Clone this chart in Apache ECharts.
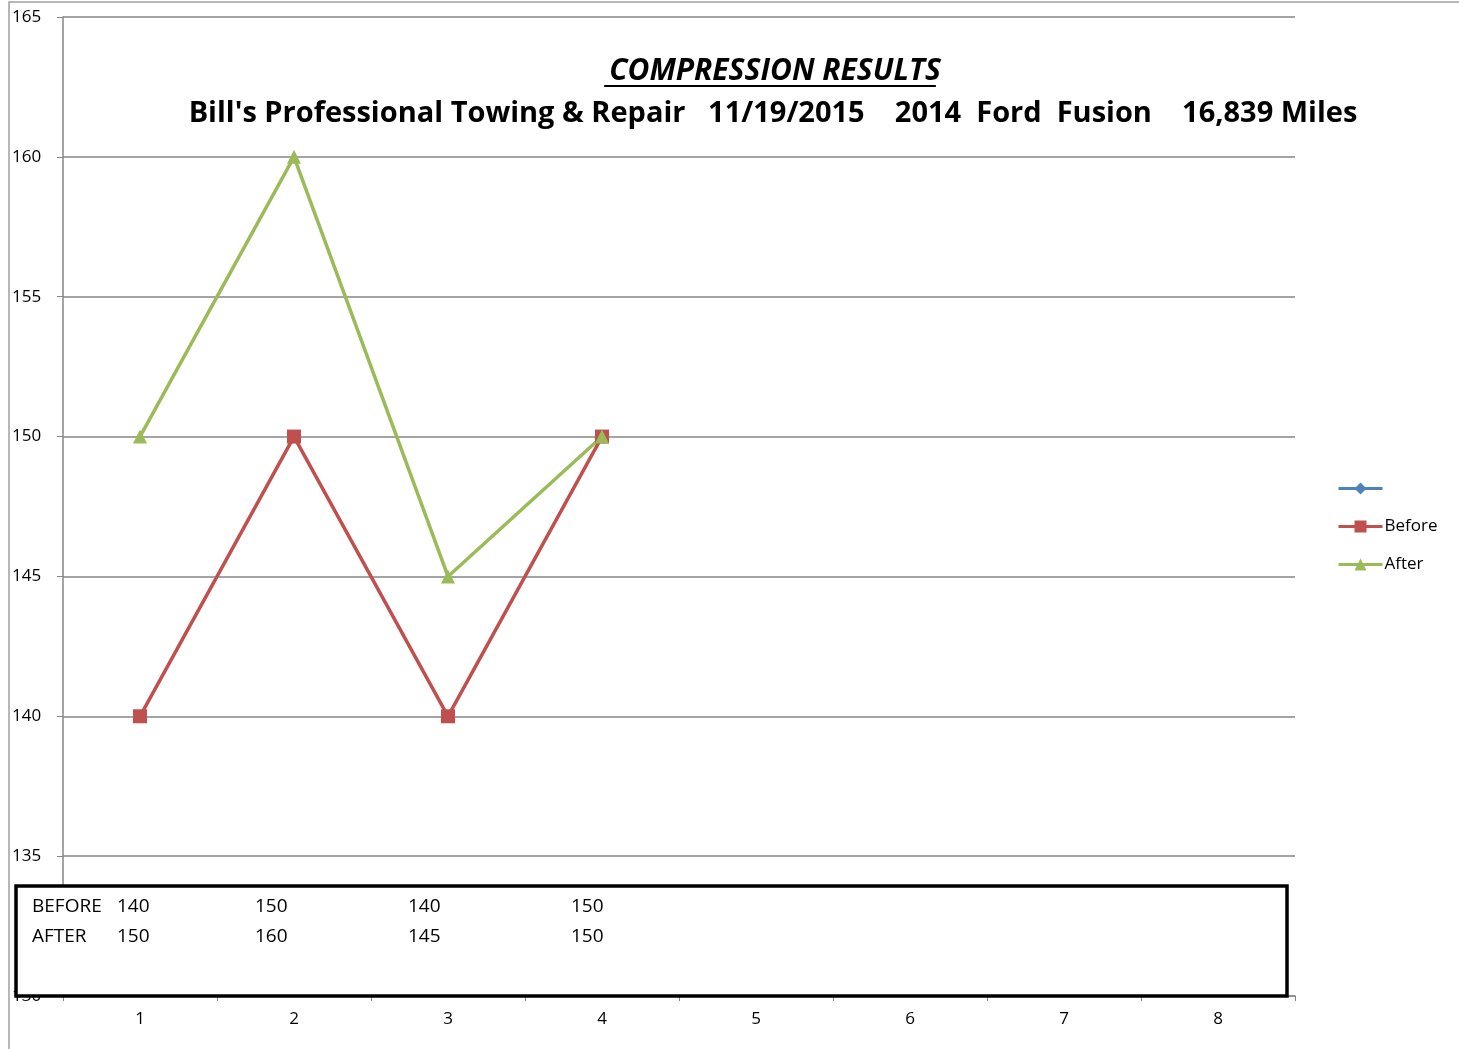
<!DOCTYPE html>
<html>
<head>
<meta charset="utf-8">
<script src="https://cdn.jsdelivr.net/npm/echarts@6/dist/echarts.min.js"></script>
<style>
  html, body { margin: 0; padding: 0; background: #fff; }
  #chart { width: 1459px; height: 1049px; }
</style>
</head>
<body>
<div id="chart"></div>
<script>
// data
const cylinders = ['1', '2', '3', '4', '5', '6', '7', '8'];
const blankSeries = [];
const before = [140, 150, 140, 150];
const after = [150, 160, 145, 150];
const yTicks = { min: 130, max: 165, step: 5 };

const titleText = 'COMPRESSION RESULTS';
const subText = "Bill's Professional Towing & Repair   11/19/2015    2014  Ford  Fusion    16,839 Miles";

// text box columns (left edges, px) - layout only
const boxCols = [117, 255, 408, 571];

const chart = echarts.init(document.getElementById('chart'));

const font = 'Open Sans, Liberation Sans, sans-serif';

function measure(txt, f) {
    const c = document.createElement('canvas').getContext('2d');
    c.font = f;
    return c.measureText(txt).width;
}

const titleFont = 'italic bold 30px ' + font;
const tw = measure(titleText, titleFont);

function boxTexts() {
    const out = [];
    const f = '19px ' + font;
    out.push({ type: 'text', left: 32, top: 897, style: { text: 'BEFORE', font: f, fill: '#000' } });
    out.push({ type: 'text', left: 32, top: 927, style: { text: 'AFTER', font: f, fill: '#000' } });
    before.forEach((v, i) => {
        out.push({ type: 'text', left: boxCols[i], top: 897, style: { text: String(v), font: f, fill: '#000' } });
    });
    after.forEach((v, i) => {
        out.push({ type: 'text', left: boxCols[i], top: 927, style: { text: String(v), font: f, fill: '#000' } });
    });
    return out;
}

const option = {
    backgroundColor: '#fff',
    animation: false,
    title: [
        {
            text: titleText,
            left: 770, top: 51, textAlign: 'center',
            textStyle: { fontFamily: font, fontSize: 30, fontWeight: 'bold', fontStyle: 'italic', color: '#000' }
        },
        {
            text: subText,
            left: 768, top: 94, textAlign: 'center',
            textStyle: { fontFamily: font, fontSize: 29, fontWeight: 'bold', color: '#000' }
        }
    ],
    legend: {
        orient: 'vertical',
        left: 1332, top: 475,
        itemWidth: 44, itemHeight: 15, itemGap: 21,
        lineStyle: { width: 3 },
        textStyle: { fontFamily: font, fontSize: 17, color: '#000', padding: [0, 0, 0, -3] },
        data: [' ', 'Before', 'After']
    },
    grid: { left: 63, right: 164, top: 17, bottom: 53 },
    xAxis: {
        type: 'category',
        data: cylinders,
        boundaryGap: true,
        axisLine: { lineStyle: { color: '#868686', width: 1.5 } },
        axisTick: { show: true, length: 5, lineStyle: { color: '#868686' } },
        axisLabel: { color: '#000', fontFamily: font, fontSize: 17, margin: 15 }
    },
    yAxis: {
        type: 'value',
        min: yTicks.min, max: yTicks.max, interval: yTicks.step,
        axisLine: { show: true, lineStyle: { color: '#868686', width: 1.5 } },
        axisTick: { show: true, length: 6, lineStyle: { color: '#868686' } },
        axisLabel: { color: '#000', fontFamily: font, fontSize: 17, align: 'left', margin: 51 },
        splitLine: { lineStyle: { color: '#868686', width: 1.5 } }
    },
    series: [
        {
            name: ' ', type: 'line', data: blankSeries,
            symbol: 'diamond', symbolSize: 10,
            lineStyle: { color: '#4F81BD', width: 3.5 }, itemStyle: { color: '#4F81BD' }
        },
        {
            name: 'Before', type: 'line', data: before,
            symbol: 'rect', symbolSize: 14,
            lineStyle: { color: '#C0504D', width: 3.5 }, itemStyle: { color: '#C0504D' }
        },
        {
            name: 'After', type: 'line', data: after,
            symbol: 'triangle', symbolSize: 14,
            lineStyle: { color: '#9BBB59', width: 3.5 }, itemStyle: { color: '#9BBB59' }
        }
    ],
    graphic: [
        // outer chart border
        { type: 'rect', shape: { x: 9, y: 2, width: 1500, height: 1100 }, style: { fill: null, stroke: '#a0a0a0', lineWidth: 1.5 }, silent: true, z: -1 },
        // title underline
        { type: 'line', shape: { x1: 770 - tw / 2, y1: 86, x2: 770 + tw / 2, y2: 86 }, style: { stroke: '#000', lineWidth: 2 } },
        // text box over the axis
        { type: 'rect', shape: { x: 16, y: 886, width: 1271, height: 110 }, style: { fill: '#fff', stroke: '#000', lineWidth: 3.5 }, z: 100 },
        ...boxTexts().map(t => Object.assign(t, { z: 101 }))
    ]
};

chart.setOption(option);
</script>
</body>
</html>
